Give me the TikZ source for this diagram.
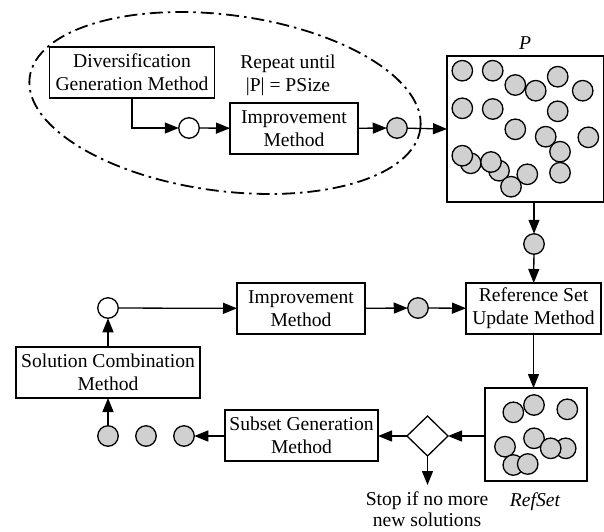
\documentclass[tikz,border=0pt]{standalone}
\usepackage{fontspec}
\setmainfont{Liberation Serif}
\usetikzlibrary{arrows.meta,shapes.geometric}
\definecolor{solfill}{RGB}{208,208,208}
\begin{document}
\begin{tikzpicture}[x=1pt,y=-1pt,
  font=\fontsize{19.6}{23.3}\selectfont,
  every node/.style={inner sep=0pt, outer sep=0pt},
  method/.style={draw, line width=1.3pt, align=center, minimum height=51pt},
  solgray/.style={circle, draw, line width=1.3pt, fill=solfill, minimum size=20.5pt},
  solopen/.style={circle, draw, line width=1.3pt, fill=white, minimum size=20.5pt},
  decision/.style={diamond, draw, line width=1.3pt, fill=white, minimum width=41pt, minimum height=40pt},
  flow/.style={line width=1.3pt, -{Triangle[length=14pt,width=11pt]}},
  loopline/.style={line width=1.8pt, dash pattern=on 13pt off 5pt on 2.5pt off 5pt},
  setbox/.style={draw, line width=1.3pt}
]
\useasboundingbox (0,0) rectangle (604,531);

% --- generation loop -------------------------------------------------
\draw[loopline, rotate around={-7.5:(225,103)}] (225,103) ellipse [x radius=197pt, y radius=88pt];

\node[method, minimum width=165pt] (divgen) at (132,72.5) {Diversification\\Generation Method};
\node[anchor=base] (rep1) at (288,68.3) {Repeat until};
\node[anchor=base] (rep2) at (288,91.7) {|P| = PSize};
\node[solopen] (oc1) at (189,128) {};
\node[method, minimum width=128pt] (imp1) at (294,128.5) {Improvement\\Method};
\node[solgray] (gc1) at (397,128) {};

\draw[flow] (divgen.south) |- (oc1);
\draw[flow] (oc1) -- (imp1);
\draw[flow] (imp1) -- (gc1);

% --- population P ----------------------------------------------------
\node[setbox, minimum width=157pt, minimum height=146pt] (pbox) at (525.5,129) {};
\node[anchor=base, font=\fontsize{19.6}{23.3}\selectfont\itshape] (plabel) at (525,49.5) {P};
\foreach \cx/\cy in {462.3/70.7, 492.7/70.7, 515.3/85, 535.7/90.7, 557.7/76.7,
    582.7/90.7, 462.3/108.3, 492.7/109, 557.7/111.3, 515.3/129.3, 545.7/136.7,
    588.3/137.3, 560/151.7, 470.7/163.3, 462.3/155.7, 499/170.7, 491/162,
    527.3/174.3, 511/186.7, 560/172.7}
  \node[solgray] at (\cx,\cy) {};

\draw[flow] (gc1) -- (pbox.west);

% --- reference set update --------------------------------------------
\node[solgray] (gc2) at (534,244) {};
\node[method, minimum width=135pt] (rsu) at (533.5,308.5) {Reference Set\\Update Method};
\node[method, minimum width=128pt] (imp2) at (301,308.5) {Improvement\\Method};
\node[solgray] (gc3) at (418,308) {};
\node[solopen] (oc2) at (108,308) {};

\draw[flow] (gc2 |- pbox.south) -- (gc2);
\draw[flow] (gc2) -- (rsu);
\draw[flow] (oc2) -- (imp2);
\draw[flow] (imp2) -- (gc3);
\draw[flow] (gc3) -- (rsu);

% --- RefSet ----------------------------------------------------------
\node[setbox, minimum width=102pt, minimum height=93pt] (refset) at (536,434.5) {};
\node[anchor=base, font=\fontsize{19.6}{23.3}\selectfont\itshape] (rlabel) at (535,506) {RefSet};
\foreach \cx/\cy in {513.3/412.3, 534/405, 567.3/409.3, 505/446.7, 534/438.3,
    565.7/448.3, 550.7/448.3, 513.3/465, 527.7/464}
  \node[solgray] at (\cx,\cy) {};

\draw[flow] (rsu.south) -- (rsu.south |- refset.north);

% --- subset generation and combination -------------------------------
\node[decision] (dia) at (427.5,436) {};
\node[method, minimum width=153pt] (sgm) at (301.5,435.5) {Subset Generation\\Method};
\node[solgray] (g3) at (184,436) {};
\node[solgray] (g2) at (146,436) {};
\node[solgray] (g1) at (108,436) {};
\node[method, minimum width=184pt] (scm) at (108,372.5) {Solution Combination\\Method};
\coordinate (stop) at (427.5,485);
\node[anchor=base] (stop1) at (427,505) {Stop if no more};
\node[anchor=base] (stop2) at (427,526) {new solutions};

\draw[flow] (refset.west |- dia) -- (dia.east);
\draw[flow] (dia.west) -- (sgm.east |- dia);
\draw[flow] (dia.south) -- (stop);
\draw[flow] (sgm.west |- g3) -- (g3);
\draw[flow] (g1) -- (scm);
\draw[flow] (scm) -- (oc2);
\end{tikzpicture}
\end{document}
